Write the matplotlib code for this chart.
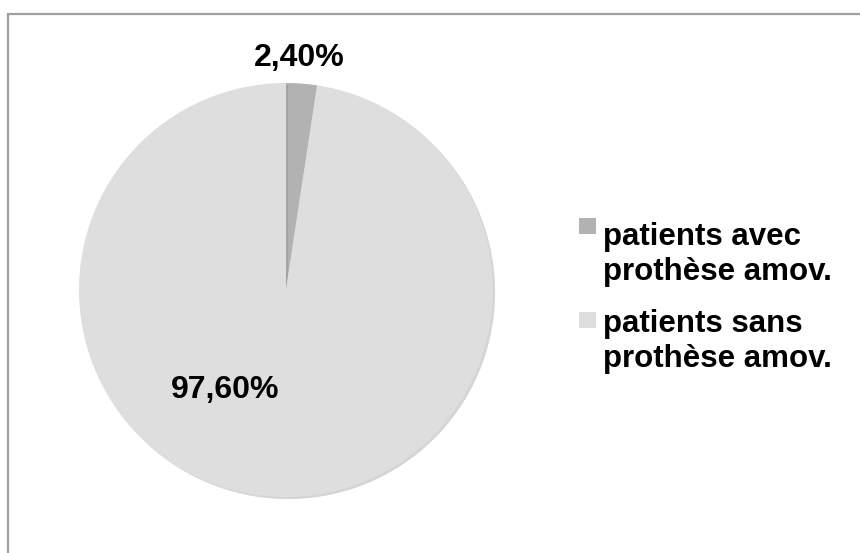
import matplotlib.pyplot as plt
import matplotlib.patheffects as pe
from matplotlib.patches import Rectangle

plt.rcParams['font.family'] = ['Liberation Sans', 'DejaVu Sans']

labels = ["patients avec\nprothèse amov.", "patients sans\nprothèse amov."]
values = [2.4, 97.6]
pct_text = ["2,40%", "97,60%"]
colors = ['#b2b2b2', '#dedede']

W, H = 860, 553
fig = plt.figure(figsize=(W / 100, H / 100), dpi=100)

# chart frame (cut off at right/bottom like the reference)
fig.patches.append(Rectangle((8 / W, -0.1), 1.2, 1 - 14 / H + 0.1,
                             transform=fig.transFigure, fill=False,
                             edgecolor='#a0a0a0', linewidth=1.6))

cx, cy, r = 286, 290, 207
ax = fig.add_axes([(cx - r) / W, (H - cy - r) / H, 2 * r / W, 2 * r / H])
wedges, _ = ax.pie(values, colors=colors, startangle=90, counterclock=False,
                   radius=1, wedgeprops=dict(linewidth=0))
for w in wedges:
    w.set_path_effects([pe.SimplePatchShadow(offset=(1.5, -1.5), shadow_rgbFace='#888888', alpha=0.35),
                        pe.Normal()])
ax.set_xlim(-1, 1)
ax.set_ylim(-1, 1)
ax.set_aspect('equal')
ax.axis('off')

ax.text(0.063, 1.12, pct_text[0], ha='center', va='center', fontsize=23, fontweight='bold')
ax.text(-0.295, -0.485, pct_text[1], ha='center', va='center', fontsize=23, fontweight='bold')

# legend
for i, (lab, col) in enumerate(zip(labels, colors)):
    y0 = 218 + i * 94
    fig.patches.append(Rectangle((579 / W, 1 - (y0 + 16) / H), 17 / W, 16 / H,
                                 transform=fig.transFigure, facecolor=col, edgecolor='none'))
    fig.text(603 / W, 1 - (280 + i * 87) / H, lab, ha='left', va='baseline',
             fontsize=22.5, fontweight='bold', linespacing=1.2)

fig.savefig('out.png', dpi=100)
